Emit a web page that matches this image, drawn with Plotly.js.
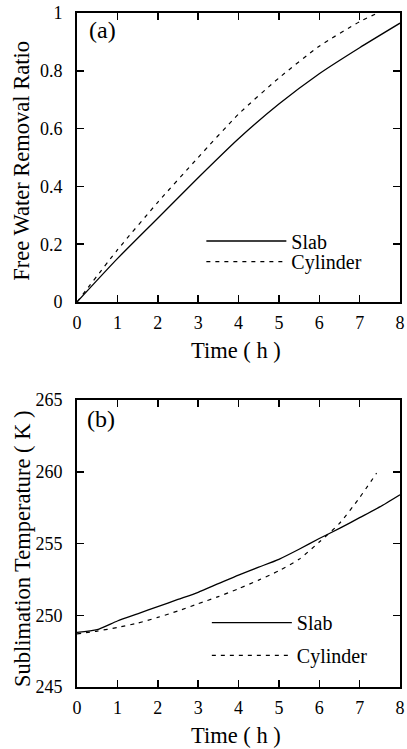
<!DOCTYPE html>
<html>
<head>
<meta charset="utf-8">
<script src="https://cdn.plot.ly/plotly-3.0.1.min.js"></script>
<style>html,body{margin:0;padding:0;background:#fff;}#chart{width:407px;height:749px;}</style>
</head>
<body>
<div id="chart"></div>
<script>
// Panel (a): free water removal ratio
var timeSlabA = [0, 1, 2, 3, 4, 5, 6, 7, 8];
var ratioSlab = [0, 0.15, 0.29, 0.43, 0.565, 0.685, 0.79, 0.88, 0.965];
var timeCylA = [0, 1, 2, 3, 4, 5, 6, 7, 7.45];
var ratioCyl = [0, 0.18, 0.345, 0.50, 0.65, 0.775, 0.885, 0.97, 1.0];

// Panel (b): sublimation temperature
var timeSlabB = [0, 0.5, 1, 1.5, 2, 2.5, 3, 3.5, 4, 4.5, 5, 5.5, 6, 6.5, 7, 7.5, 8];
var tempSlab = [248.8, 249.0, 249.6, 250.1, 250.6, 251.1, 251.6, 252.2, 252.8, 253.35, 253.9, 254.6, 255.35, 256.05, 256.8, 257.55, 258.4];
var timeCylB = [0, 0.5, 1, 1.5, 2, 2.5, 3, 3.5, 4, 4.5, 5, 5.5, 6, 6.5, 7, 7.42];
var tempCyl = [248.7, 248.9, 249.15, 249.45, 249.85, 250.3, 250.8, 251.3, 251.85, 252.45, 253.1, 253.9, 255.1, 256.4, 258.2, 259.9];

var xTicks = [0, 1, 2, 3, 4, 5, 6, 7, 8];
var seriesNames = ['Slab', 'Cylinder'];
var panelLabels = ['(a)', '(b)'];
var xTitle = 'Time ( h )';
var yTitles = ['Free Water Removal Ratio', 'Sublimation Temperature ( K )'];

var FONT = "'Liberation Serif', 'Times New Roman', serif";
var solid = {color: '#000', width: 1.3, shape: 'spline', smoothing: 0.6};
var dashed = {color: '#000', width: 1.2, dash: '4px,5px', shape: 'spline', smoothing: 0.6};

var traces = [
  {x: timeSlabA, y: ratioSlab, mode: 'lines', name: seriesNames[0], line: solid, xaxis: 'x', yaxis: 'y', legend: 'legend'},
  {x: timeCylA, y: ratioCyl, mode: 'lines', name: seriesNames[1], line: dashed, xaxis: 'x', yaxis: 'y', legend: 'legend2'},
  {x: timeSlabB, y: tempSlab, mode: 'lines', name: seriesNames[0], line: solid, xaxis: 'x2', yaxis: 'y2', legend: 'legend3'},
  {x: timeCylB, y: tempCyl, mode: 'lines', name: seriesNames[1], line: dashed, xaxis: 'x2', yaxis: 'y2', legend: 'legend4'}
];

function xAxis(anchor) {
  return {
    anchor: anchor, domain: [0, 1], range: [0, 8], tickvals: xTicks,
    showline: true, linewidth: 2, linecolor: '#000', mirror: 'ticks',
    ticks: 'inside', ticklen: 7, tickwidth: 1.5, tickcolor: '#000',
    showgrid: false, zeroline: false, ticklabelstandoff: 3,
    tickfont: {family: FONT, size: 18, color: '#000'}
  };
}
function yAxis(anchor, domain, range, dtick) {
  return {
    anchor: anchor, domain: domain, range: range, dtick: dtick, tick0: range[0],
    showline: true, linewidth: 2, linecolor: '#000', mirror: 'ticks',
    ticks: 'inside', ticklen: 7, tickwidth: 1.5, tickcolor: '#000',
    showgrid: false, zeroline: false, ticklabelstandoff: 9,
    tickfont: {family: FONT, size: 18, color: '#000'}
  };
}
function leg(x, y) {
  return {x: x, y: y, xanchor: 'left', yanchor: 'middle', bgcolor: 'rgba(0,0,0,0)', borderwidth: 0,
          itemwidth: 80, font: {family: FONT, size: 20, color: '#000'}};
}

var ann = function(text, x, y, xref, yref, size, angle) {
  return {text: text, x: x, y: y, xref: xref, yref: yref, showarrow: false,
          xanchor: 'center', yanchor: 'middle', textangle: angle || 0,
          font: {family: FONT, size: size, color: '#000'}};
};

var layout = {
  width: 407, height: 749,
  margin: {l: 77, r: 7, t: 13, b: 62},
  paper_bgcolor: '#fff', plot_bgcolor: '#fff',
  showlegend: true,
  xaxis: xAxis('y'),
  yaxis: yAxis('x', [0.5712, 1], [0, 1], 0.2),
  xaxis2: xAxis('y2'),
  yaxis2: yAxis('x2', [0, 0.4258], [245, 265], 5),
  legend: leg(0.385, 0.6617),
  legend2: leg(0.385, 0.6312),
  legend3: leg(0.402, 0.0955),
  legend4: leg(0.402, 0.047),
  annotations: [
    ann(panelLabels[0], 0.64, 0.94, 'x', 'y', 24),
    ann(panelLabels[1], 0.6, 263.7, 'x2', 'y2', 24),
    ann(xTitle, 0.492, 0.5, 'paper', 'paper', 22.5),
    ann(xTitle, 0.492, -0.0717, 'paper', 'paper', 22.5),
    ann(yTitles[0], -0.17, 0.781, 'paper', 'paper', 22.5, -90),
    ann(yTitles[1], -0.17, 0.2047, 'paper', 'paper', 22.5, -90)
  ]
};

Plotly.newPlot('chart', traces, layout, {staticPlot: true, displayModeBar: false});
</script>
</body>
</html>
